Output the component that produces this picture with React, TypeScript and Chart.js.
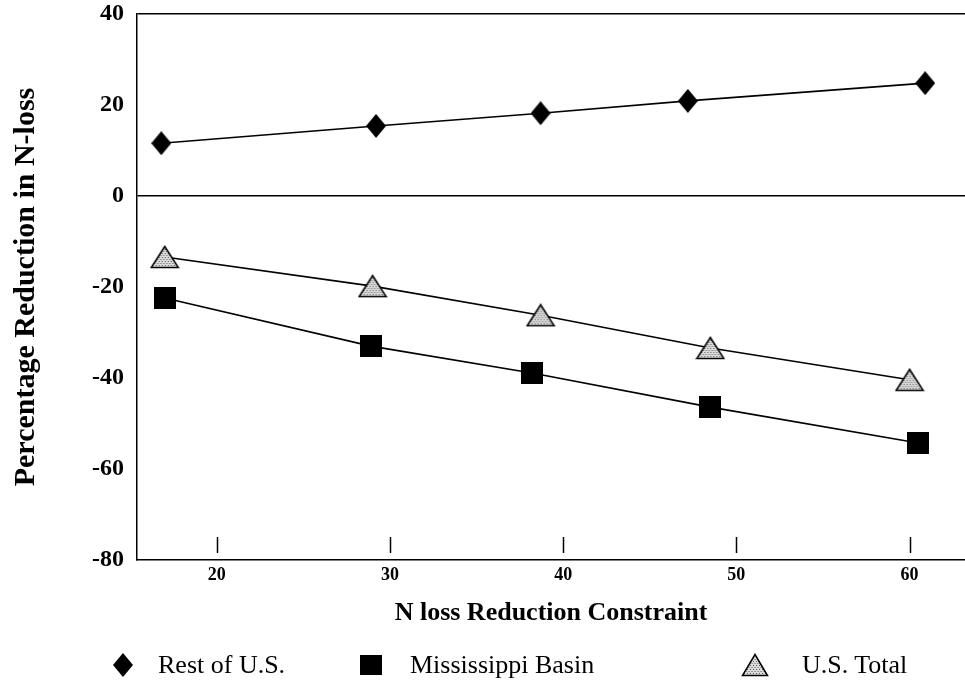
import React, { useEffect, useRef } from 'react';
import { Chart, registerables } from 'chart.js';

Chart.register(...registerables);

// ---- data ----
const seriesNames = ['Rest of U.S.', 'Mississippi Basin', 'U.S. Total'];
const restX = [16.8, 29.2, 38.7, 47.2, 60.9];
const restY = [11.6, 15.4, 18.2, 20.9, 24.8];
const missX = [17.0, 28.9, 38.2, 48.5, 60.5];
const missY = [-22.4, -33.0, -38.9, -46.4, -54.3];
const totalX = [17.0, 29.0, 38.7, 48.5, 60.0];
const totalY = [-13.4, -19.8, -26.2, -33.4, -40.4];
const xTicks = [20, 30, 40, 50, 60];
const yTicks = [-80, -60, -40, -20, 0, 20, 40];
const xTitle = 'N loss Reduction Constraint';
const yTitle = 'Percentage Reduction in N-loss';

const SERIF = "'Liberation Serif', 'Times New Roman', serif";

function makeDiamond(): HTMLCanvasElement {
  const c = document.createElement('canvas');
  c.width = 20;
  c.height = 24;
  const g = c.getContext('2d')!;
  g.fillStyle = '#000';
  g.beginPath();
  g.moveTo(10, 0);
  g.lineTo(20, 12);
  g.lineTo(10, 24);
  g.lineTo(0, 12);
  g.closePath();
  g.fill();
  return c;
}

function makeSquare(): HTMLCanvasElement {
  const c = document.createElement('canvas');
  c.width = 22;
  c.height = 22;
  const g = c.getContext('2d')!;
  g.fillStyle = '#000';
  g.fillRect(0, 0, 22, 22);
  return c;
}

function makeTriangle(): HTMLCanvasElement {
  const c = document.createElement('canvas');
  c.width = 30;
  c.height = 24;
  const g = c.getContext('2d')!;
  g.beginPath();
  g.moveTo(15, 1.5);
  g.lineTo(28.5, 22.5);
  g.lineTo(1.5, 22.5);
  g.closePath();
  g.save();
  g.clip();
  g.fillStyle = '#dcdcdc';
  g.fillRect(0, 0, 30, 24);
  g.fillStyle = '#555';
  for (let yy = 0; yy < 24; yy += 2) {
    for (let xx = (yy / 2) % 2 === 0 ? 0 : 1.5; xx < 30; xx += 3) {
      g.fillRect(xx, yy, 1, 1);
    }
  }
  g.restore();
  g.strokeStyle = '#000';
  g.lineWidth = 1.5;
  g.stroke();
  return c;
}

const toPoints = (xs: number[], ys: number[]) => xs.map((x, i) => ({ x, y: ys[i] }));

const innerTicks = {
  id: 'innerTicks',
  afterDatasetsDraw(chart: any) {
    const { ctx, chartArea, scales } = chart;
    const x = scales.x;
    ctx.save();
    ctx.strokeStyle = '#000';
    ctx.lineWidth = 1.5;
    x.ticks.forEach((t: any) => {
      const px = Math.round(x.getPixelForValue(t.value)) + 0.5;
      ctx.beginPath();
      ctx.moveTo(px, chartArea.bottom - 23);
      ctx.lineTo(px, chartArea.bottom - 7);
      ctx.stroke();
    });
    ctx.restore();
  },
};

function DiamondIcon() {
  return (
    <svg width="20" height="24" viewBox="0 0 20 24" style={{ display: 'block' }}>
      <polygon points="10,0 20,12 10,24 0,12" fill="#000" />
    </svg>
  );
}
function SquareIcon() {
  return (
    <svg width="22" height="20" viewBox="0 0 22 20" style={{ display: 'block' }}>
      <rect x="0" y="0" width="22" height="20" fill="#000" />
    </svg>
  );
}
function TriangleIcon() {
  return (
    <svg width="28" height="24" viewBox="0 0 28 24" style={{ display: 'block' }}>
      <defs>
        <pattern id="stip" width="3" height="4" patternUnits="userSpaceOnUse">
          <rect width="3" height="4" fill="#dcdcdc" />
          <rect x="0" y="0" width="1" height="1" fill="#555" />
          <rect x="1.5" y="2" width="1" height="1" fill="#555" />
        </pattern>
      </defs>
      <polygon points="14,1.5 26.5,22.5 1.5,22.5" fill="url(#stip)" stroke="#000" strokeWidth="1.5" />
    </svg>
  );
}

const legendItems = [
  { name: seriesNames[0], Icon: DiamondIcon, markerX: 123, textX: 158 },
  { name: seriesNames[1], Icon: SquareIcon, markerX: 371, textX: 410 },
  { name: seriesNames[2], Icon: TriangleIcon, markerX: 755, textX: 802 },
];

export default function App() {
  const ref = useRef<HTMLCanvasElement>(null);

  useEffect(() => {
    if (!ref.current) return;
    const diamond = makeDiamond();
    const square = makeSquare();
    const triangle = makeTriangle();

    const chart = new Chart(ref.current, {
      type: 'line',
      data: {
        datasets: [
          {
            label: seriesNames[0],
            data: toPoints(restX, restY),
            borderColor: '#000',
            borderWidth: 1.6,
            pointStyle: diamond as any,
            pointRadius: 10,
            tension: 0,
            fill: false,
          },
          {
            label: seriesNames[1],
            data: toPoints(missX, missY),
            borderColor: '#000',
            borderWidth: 1.6,
            pointStyle: square as any,
            pointRadius: 10,
            tension: 0,
            fill: false,
          },
          {
            label: seriesNames[2],
            data: toPoints(totalX, totalY),
            borderColor: '#000',
            borderWidth: 1.6,
            pointStyle: triangle as any,
            pointRadius: 10,
            tension: 0,
            fill: false,
          },
        ],
      },
      options: {
        animation: false,
        responsive: false,
        devicePixelRatio: 1,
        layout: { autoPadding: false, padding: { left: 0, right: 0, top: 0, bottom: 47 } },
        plugins: {
          legend: { display: false },
          tooltip: { enabled: false },
        },
        scales: {
          x: {
            type: 'linear',
            min: 15.4,
            max: 63.2,
            afterBuildTicks: (s: any) => {
              s.ticks = xTicks.map((v) => ({ value: v }));
            },
            afterFit: (s: any) => {
              s.height = 80;
              s.paddingLeft = 0;
              s.paddingRight = 0;
            },
            grid: { display: true, drawOnChartArea: false, drawTicks: false },
            border: { display: true, color: '#000', width: 1.5 },
            ticks: {
              color: '#000',
              autoSkip: false,
              maxRotation: 0,
              padding: 5,
              font: { family: SERIF, size: 18, weight: 'bold' },
            },
            title: {
              display: true,
              text: xTitle,
              color: '#000',
              font: { family: SERIF, size: 26, weight: 'bold' },
              padding: { top: 0, bottom: 11 },
            },
          },
          y: {
            type: 'linear',
            min: -80,
            max: 40,
            afterBuildTicks: (s: any) => {
              s.ticks = yTicks.map((v) => ({ value: v }));
            },
            afterFit: (s: any) => {
              s.width = 137;
              s.paddingTop = 14;
              s.paddingBottom = 0;
            },
            grid: {
              drawTicks: false,
              lineWidth: 1.5,
              color: (c: any) =>
                c.tick && (c.tick.value === 0 || c.tick.value === 40) ? '#000' : 'rgba(0,0,0,0)',
            },
            border: { display: true, color: '#000', width: 1.5 },
            ticks: {
              color: '#000',
              padding: 13,
              font: { family: SERIF, size: 24, weight: 'bold' },
            },
            title: {
              display: true,
              text: yTitle,
              color: '#000',
              font: { family: SERIF, size: 30, weight: 'bold' },
              padding: { top: 8, bottom: 0 },
            },
          },
        },
      },
      plugins: [innerTicks],
    } as any);

    return () => chart.destroy();
  }, []);

  return (
    <div
      style={{
        position: 'fixed',
        left: 0,
        top: 0,
        width: 965,
        height: 687,
        background: '#fff',
        overflow: 'hidden',
      }}
    >
      <canvas ref={ref} width={965} height={687} style={{ position: 'absolute', left: 0, top: 0 }} />
      {legendItems.map(({ name, Icon, markerX, textX }) => (
        <React.Fragment key={name}>
          <div
            style={{
              position: 'absolute',
              left: markerX,
              top: 665,
              transform: 'translate(-50%, -50%)',
            }}
          >
            <Icon />
          </div>
          <div
            style={{
              position: 'absolute',
              left: textX,
              top: 650,
              height: 30,
              lineHeight: '30px',
              fontFamily: SERIF,
              fontSize: 26,
              color: '#000',
              whiteSpace: 'nowrap',
            }}
          >
            {name}
          </div>
        </React.Fragment>
      ))}
    </div>
  );
}
